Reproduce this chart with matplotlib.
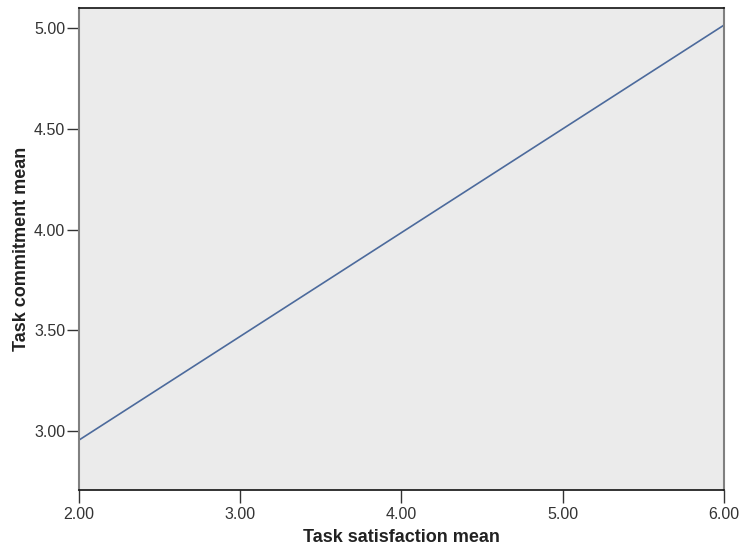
import matplotlib
matplotlib.use("Agg")
import matplotlib.pyplot as plt

# fitted line end points
sat_mean = [2.0, 6.0]
commit_mean = [2.955, 5.015]

x_ticks = [2.0, 3.0, 4.0, 5.0, 6.0]
y_ticks = [3.0, 3.5, 4.0, 4.5, 5.0]

plt.rcParams["font.family"] = ["Liberation Sans", "DejaVu Sans"]

fig = plt.figure(figsize=(7.42, 5.51), dpi=100)
ax = fig.add_axes([0.1065, 0.1107, 0.8692, 0.8748])
ax.set_facecolor("#ebebeb")

ax.plot(sat_mean, commit_mean, color="#4c6a9c", linewidth=1.2)

ax.set_xlim(2.0, 6.0)
ax.set_ylim(2.707, 5.10)
ax.set_xticks(x_ticks)
ax.set_yticks(y_ticks)
ax.set_xticklabels([f"{v:.2f}" for v in x_ticks])
ax.set_yticklabels([f"{v:.2f}" for v in y_ticks])
ax.tick_params(direction="out", length=8.5, width=1, colors="#333333",
               labelsize=11.5, labelcolor="#333333", pad=1.5)
ax.tick_params(axis="x", length=9, pad=3)

for side in ["left", "right"]:
    ax.spines[side].set_color("#808080")
    ax.spines[side].set_linewidth(1.5)
for side in ["top", "bottom"]:
    ax.spines[side].set_color("#111111")
    ax.spines[side].set_linewidth(1.2)

ax.set_xlabel("Task satisfaction mean", fontsize=13, fontweight="bold",
              labelpad=5, color="#222222")
ax.set_ylabel("Task commitment mean", fontsize=13, fontweight="bold",
              labelpad=3, color="#222222")

fig.savefig("out.png", dpi=100)
